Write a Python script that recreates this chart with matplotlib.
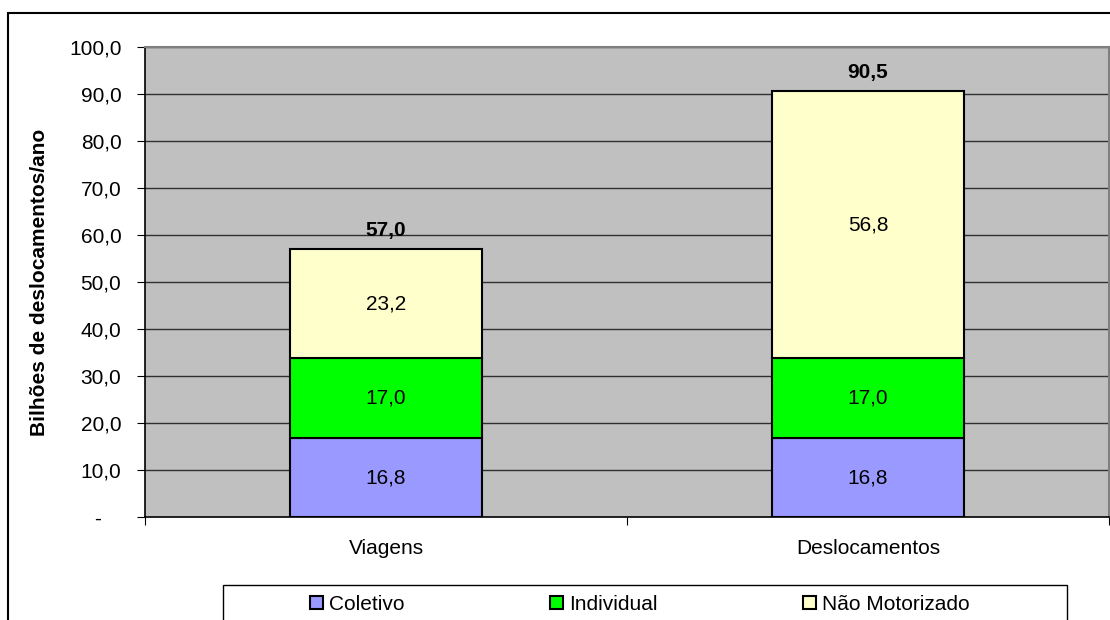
import matplotlib.pyplot as plt
import matplotlib.transforms as mtransforms
from matplotlib.patches import Rectangle

plt.rcParams["font.family"] = ["Liberation Sans", "DejaVu Sans"]

categories = ["Viagens", "Deslocamentos"]
coletivo = [16.8, 16.8]
individual = [17.0, 17.0]
nao_motorizado = [23.2, 56.8]
totals = [57.0, 90.5]
series_names = ["Coletivo", "Individual", "Não Motorizado"]
colors = ["#9999FF", "#00FF00", "#FFFFCC"]
yticks = [0, 10, 20, 30, 40, 50, 60, 70, 80, 90, 100]

FS = 15


def br(v):
    return f"{v:.1f}".replace(".", ",")


fig = plt.figure(figsize=(11.1, 6.2), dpi=100)
ax = fig.add_axes([145 / 1110, 103 / 620, 964 / 1110, 470 / 620])
ax.set_facecolor("#C0C0C0")

# outer chart frame
fig.patches.append(Rectangle((8 / 1110, -0.05), 1.2, 1 - 13 / 620 + 0.05,
                             transform=fig.transFigure, fill=False,
                             edgecolor="black", linewidth=1.5, clip_on=False))
# legend frame
fig.patches.append(Rectangle((223 / 1110, -0.05), 844 / 1110, 35 / 620 + 0.05,
                             transform=fig.transFigure, fill=False,
                             edgecolor="black", linewidth=1, clip_on=False))

ax.set_ylim(0, 100)
ax.set_xlim(-0.5, 1.5)
ax.set_yticks(yticks)
ax.set_yticklabels(["-" if t == 0 else br(t) for t in yticks], fontsize=FS)
for t in yticks[1:]:
    ax.axhline(t, color="#303030", linewidth=1, zorder=1)

x = list(range(len(categories)))
bottom = [0.0] * len(categories)
handles = []
for name, vals, c in zip(series_names, [coletivo, individual, nao_motorizado], colors):
    b = ax.bar(x, vals, 0.4, bottom=bottom, color=c, edgecolor="black",
               linewidth=1.5, label=name, zorder=3)
    handles.append(b)
    for xi, v, bt in zip(x, vals, bottom):
        ax.text(xi, bt + v / 2, br(v), ha="center", va="center", fontsize=FS, zorder=4)
    bottom = [bt + v for bt, v in zip(bottom, vals)]

for xi, bt, tot in zip(x, bottom, totals):
    ax.text(xi, bt + 4, br(tot), ha="center", va="center", fontsize=FS,
            fontweight="bold", zorder=4)

ax.set_xticks([-0.5, 0.5, 1.5])
ax.set_xticklabels([])
ax.set_xticks(x, minor=True)
ax.set_xticklabels(categories, minor=True, fontsize=FS)
ax.tick_params(axis="x", which="minor", length=0, pad=16)
ax.tick_params(axis="x", which="major", length=6, direction="out", color="black")
ax.tick_params(axis="y", length=6, direction="out", pad=11)

# excel accounting style: the zero dash sits further left
zero_lbl = ax.yaxis.get_major_ticks()[0].label1
zero_lbl.set_transform(zero_lbl.get_transform() +
                       mtransforms.ScaledTranslation(-20 / 100, 0, fig.dpi_scale_trans))

ax.set_ylabel("Bilhões de deslocamentos/ano", fontsize=FS, fontweight="bold")
ax.yaxis.set_label_coords(-0.0996, 0.5)

for s in ["left", "bottom"]:
    ax.spines[s].set_color("black")
    ax.spines[s].set_linewidth(1.2)
for s in ["top", "right"]:
    ax.spines[s].set_color("#808080")
    ax.spines[s].set_linewidth(1.5)

leg = fig.legend(handles=handles, labels=series_names, loc="center",
                 bbox_to_anchor=(640 / 1110, 1 - 604 / 620), ncol=3, fontsize=FS,
                 frameon=False, handlelength=0.6, handleheight=0.6,
                 handletextpad=0.3, columnspacing=7)

fig.savefig("out.png", dpi=100)
